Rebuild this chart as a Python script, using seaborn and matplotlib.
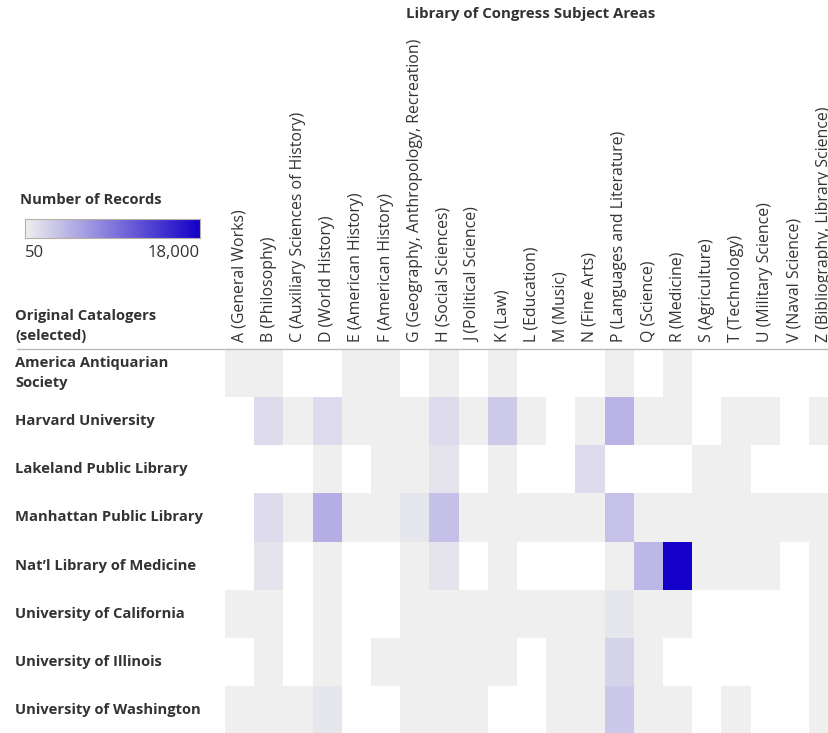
import numpy as np
import pandas as pd
import seaborn as sns
import matplotlib.pyplot as plt
from matplotlib.colors import LinearSegmentedColormap
from matplotlib.lines import Line2D

subjects = [
    "A (General Works)", "B (Philosophy)", "C (Auxiliary Sciences of History)",
    "D (World History)", "E (American History)", "F (American History)",
    "G (Geography, Anthropology, Recreation)", "H (Social Sciences)",
    "J (Political Science)", "K (Law)", "L (Education)", "M (Music)",
    "N (Fine Arts)", "P (Languages and Literature)", "Q (Science)",
    "R (Medicine)", "S (Agriculture)", "T (Technology)", "U (Military Science)",
    "V (Naval Science)", "Z (Bibliography, Library Science)",
]

catalogers = [
    "America Antiquarian\nSociety", "Harvard University", "Lakeland Public Library",
    "Manhattan Public Library", "Nat\u2019l Library of Medicine",
    "University of California", "University of Illinois", "University of Washington",
]

nan = np.nan
# estimated record counts, columns in the order of `subjects`
america_antiquarian = [120, 120, nan, nan, 120, 120, nan, 120, nan, 120, nan, nan, nan, 120, nan, 120, nan, nan, nan, nan, nan]
harvard = [nan, 1500, 120, 1500, 120, 120, 120, 1500, 120, 2900, 120, nan, 120, 4500, 120, 120, nan, 120, 120, nan, 120]
lakeland = [nan, nan, nan, 120, nan, 120, 120, 900, nan, 120, nan, nan, 1500, nan, nan, nan, 120, 120, nan, nan, nan]
manhattan = [nan, 1500, 120, 4900, 120, 120, 800, 3600, 120, 120, 120, 120, 120, 3500, 120, 120, 120, 120, 120, 120, 120]
natl_medicine = [nan, 900, nan, 120, nan, nan, 120, 900, nan, 120, nan, nan, nan, 120, 4300, 18000, 120, 120, 120, nan, 120]
uc = [120, 120, nan, 120, nan, nan, 120, 120, 120, 120, 120, 120, 120, 800, 120, 120, nan, nan, nan, nan, 120]
illinois = [nan, 120, nan, 120, nan, 120, 120, 120, 120, 120, nan, 120, 120, 2200, 120, nan, nan, nan, nan, nan, 120]
washington = [120, 120, 120, 800, nan, nan, 120, 120, 120, nan, nan, 120, 120, 3000, 120, 120, nan, 120, nan, nan, 120]

df = pd.DataFrame(
    [america_antiquarian, harvard, lakeland, manhattan, natl_medicine, uc, illinois, washington],
    index=catalogers, columns=subjects,
)

FONT = "Open Sans"
TXT = "#333333"
cmap = LinearSegmentedColormap.from_list("records", ["#efefef", "#1400c8"])

W, H = 829, 733
fig = plt.figure(figsize=(W / 100, H / 100), dpi=100)

col_w = 29.2
ax = fig.add_axes([225 / W, -1 / H, len(subjects) * col_w / W, 385 / H])
sns.heatmap(df, cmap=cmap, vmin=50, vmax=18000, cbar=False, ax=ax, linewidths=0)

ax.xaxis.tick_top()
ax.set_xticklabels(subjects, rotation=90, fontsize=11.4, family=FONT, color=TXT)
ax.tick_params(axis="x", length=0, pad=5)
ax.set_yticklabels(catalogers, rotation=0, fontsize=10.6, family=FONT, fontweight="bold", color=TXT)
ax.tick_params(axis="y", length=0, pad=(225 - 15) * 0.72)
for lab in ax.get_yticklabels():
    lab.set_ha("left")
    lab.set_linespacing(1.6)
ax.set_xlabel("")
ax.set_ylabel("")

# header separator
fig.add_artist(Line2D([17 / W, 1], [1 - 349 / H] * 2, color="#bbbbbb", lw=1))

fig.text(531 / W, 1 - 14 / H, "Library of Congress Subject Areas", ha="center", va="center",
         fontsize=10.8, family=FONT, fontweight="bold", color=TXT)
fig.text(15 / W, 1 - 326 / H, "Original Catalogers\n(selected)", ha="left", va="center",
         fontsize=10.6, family=FONT, fontweight="bold", color=TXT, linespacing=1.6)

# color legend
fig.text(20 / W, 1 - 200 / H, "Number of Records", ha="left", va="center",
         fontsize=10.6, family=FONT, fontweight="bold", color=TXT)
cax = fig.add_axes([25 / W, 1 - 238 / H, 175 / W, 19 / H])
steps = plt.get_cmap(cmap, 20)
cax.imshow(np.linspace(0, 1, 200).reshape(1, -1), cmap=steps, aspect="auto")
cax.set_xticks([])
cax.set_yticks([])
for sp in cax.spines.values():
    sp.set_color("#b8b0a4")
fig.text(25 / W, 1 - 253 / H, "50", ha="left", va="center", fontsize=12, family=FONT, color=TXT)
fig.text(200 / W, 1 - 253 / H, "18,000", ha="right", va="center", fontsize=12, family=FONT, color=TXT)

fig.savefig("out.png", dpi=100, facecolor="white")
